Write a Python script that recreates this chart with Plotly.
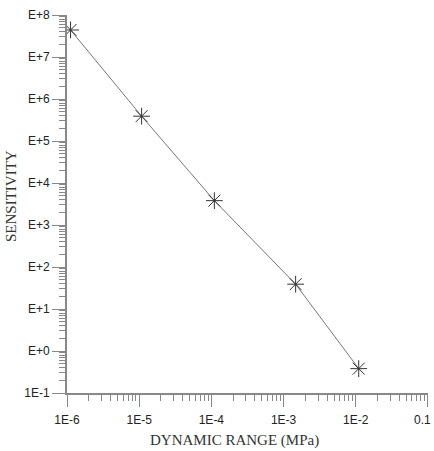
import plotly.graph_objects as go

dynamic_range = [1.12e-6, 1.08e-5, 1.10e-4, 1.47e-3, 1.1e-2]
sensitivity = [4.4e7, 3.9e5, 3.8e3, 39, 0.38]

x_tickvals = [1e-6, 1e-5, 1e-4, 1e-3, 1e-2, 1e-1]
x_ticktext = ["1E-6", "1E-5", "1E-4", "1E-3", "1E-2", "0.1"]
y_tickvals = [1e-1, 1e0, 1e1, 1e2, 1e3, 1e4, 1e5, 1e6, 1e7, 1e8]
y_ticktext = ["1E-1", "E+0", "E+1", "E+2", "E+3", "E+4", "E+5", "E+6", "E+7", "E+8"]
x_title = "DYNAMIC RANGE (MPa)"
y_title = "SENSITIVITY"

def minor_vals(lo, hi):
    return [m * 10.0 ** e for e in range(lo, hi) for m in range(2, 10)]

fig = go.Figure()
fig.add_trace(go.Scatter(
    x=dynamic_range, y=sensitivity, mode="lines+markers",
    line=dict(color="#777777", width=1),
    marker=dict(symbol="asterisk-open", size=14, color="#333333",
                line=dict(color="#333333", width=1)),
    showlegend=False,
))

axis_font = dict(family="Liberation Sans, Arial", size=12, color="#222222")
title_font = dict(family="Liberation Serif, Times New Roman", size=15, color="#333333")

# last x label is drawn as an annotation so it stays inside the page edge
shown_xtext = x_ticktext[:-1] + [""]

fig.update_xaxes(
    type="log", range=[-6, -0.999], automargin=False,
    tickmode="array", tickvals=x_tickvals, ticktext=shown_xtext,
    ticks="outside", ticklen=12, tickcolor="#888888", tickwidth=1,
    ticklabelstandoff=3, ticklabeloverflow="allow",
    minor=dict(tickmode="array", tickvals=minor_vals(-6, -1), ticks="outside",
               ticklen=6, tickcolor="#888888", showgrid=False),
    showline=True, linecolor="#888888", linewidth=2,
    showgrid=False, zeroline=False, tickfont=axis_font,
)
fig.update_yaxes(
    type="log", range=[-1, 8], automargin=False,
    tickmode="array", tickvals=y_tickvals, ticktext=y_ticktext,
    ticks="outside", ticklen=13, tickcolor="#888888", tickwidth=1,
    ticklabeloverflow="allow",
    minor=dict(tickmode="array", tickvals=minor_vals(-1, 8), ticks="outside",
               ticklen=6, tickcolor="#888888", showgrid=False),
    showline=True, linecolor="#888888", linewidth=2,
    showgrid=False, zeroline=False, tickfont=axis_font,
)
fig.update_layout(
    width=434, height=451,
    margin=dict(l=67, r=6, t=15, b=58),
    plot_bgcolor="white", paper_bgcolor="white",
    annotations=[
        dict(text=x_title, xref="paper", yref="paper", x=(234 - 67) / 361, y=-(440 - 393) / 378,
             xanchor="center", yanchor="middle", showarrow=False, font=title_font),
        dict(text=y_title, xref="paper", yref="paper", x=-(67 - 11) / 361, y=(393 - 196) / 378,
             xanchor="center", yanchor="middle", showarrow=False, textangle=-90, font=title_font),
        dict(text=x_ticktext[-1], xref="paper", yref="paper", x=(433 - 67) / 361, y=-(420 - 393) / 378,
             xanchor="right", yanchor="middle", showarrow=False, font=axis_font),
    ],
)
fig.write_html("out.html")
